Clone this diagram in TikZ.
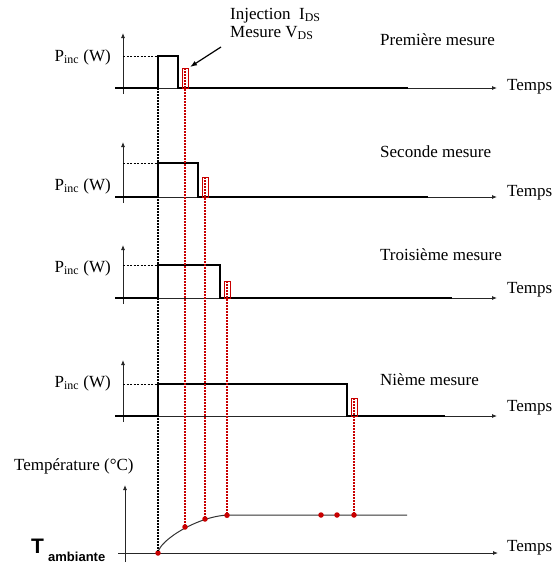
\documentclass[tikz,border=0pt]{standalone}
\usepackage{fontspec}
\setmainfont{Liberation Serif}
\newfontfamily\sansf{Liberation Sans}
\usetikzlibrary{arrows.meta}
\definecolor{rougef}{RGB}{200,0,0}

\begin{document}
\begin{tikzpicture}[x=1pt, y=-1pt,
	axe/.style={line width=0.8pt, black!85, -{Latex[length=5pt, width=4pt]}},
	impulsion/.style={line width=2.2pt, black},
	niveau/.style={line width=0.7pt, dash pattern=on 2pt off 1.5pt},
	repere/.style={line width=1.2pt, dash pattern=on 1.5pt off 1.5pt},
	txt/.style={font=\fontsize{17}{18}\selectfont, inner sep=0pt},
	point/.style={circle, fill=rougef, inner sep=0pt, minimum size=5.5pt}]

	\useasboundingbox (0,0) rectangle (557,565);

	% les quatre mesures
	\foreach \i/\yb/\yh/\ya/\xf/\xt/\yr/\ytp/\yti/\ypl/\titre in {
		1/88/56/33/178/408/68/87/40/57/Première mesure,
		2/197/163/142/198/428/177/193/152/186/Seconde mesure,
		3/298/265/245/220/452/281/290/255/268/Troisième mesure,
		4/416/384/360/347/445/398/408/380/383/Nième mesure}{
		\draw[axe] (115,\yb) -- (497,\yb);
		\draw[axe] (123,\yb+6) -- (123,\ya);
		\draw[niveau] (123,\yh) -- (158,\yh);
		\draw[impulsion] (115,\yb) -- (158,\yb) -- (158,\yh) -- (\xf,\yh) -- (\xf,\yb) -- (\xt,\yb);
		\draw[rougef, line width=0.7pt] (\xf+4,\yb) rectangle (\xf+10,\yr);
		\coordinate (m\i) at (\xf+7,\yr);
		\node[txt, anchor=west] (temps\i) at (507,\ytp) {Temps};
		\node[txt, anchor=west] (titre\i) at (380,\yti) {\titre};
		\node[txt, anchor=east] (pinc\i) at (111,\ypl) {P\textsubscript{inc} (W)};
	}

	\node[txt, anchor=west, align=left] (inj) at (230,24) {Injection\ \ I\textsubscript{DS}\\Mesure V\textsubscript{DS}};
	\coordinate (fd) at (221,47);
	\coordinate (fa) at (190,67);
	\draw[line width=1.2pt, -{Latex[length=7pt, width=5pt]}] (fd) -- (fa);

	% temperature
	\node[txt, anchor=west] (temp) at (14,466) {Température (°C)};
	\node[anchor=base west, inner sep=0pt, font=\sansf\bfseries\fontsize{21}{21}\selectfont] (tamb) at (31,553) {T};
	\node[anchor=base west, inner sep=0pt, font=\sansf\bfseries\fontsize{13}{13}\selectfont] (amb) at (48,561) {ambiante};
	\node[txt, anchor=west] (temps5) at (507,548) {Temps};
	\draw[axe] (118,553) -- (498,553);
	\draw[axe] (125,562) -- (125,485);
	\draw[black!80, line width=1pt] (158,553) .. controls (159,540) and (200,515) .. (230,515) -- (407,515);

	\node[point] (p0) at (158,553) {};
	\node[point] (p1) at (185,527) {};
	\node[point] (p2) at (205,519) {};
	\node[point] (p3) at (227,515.3) {};
	\node[point] (p4) at (321,515) {};
	\node[point] (p5) at (337,515) {};
	\node[point] (p6) at (354,515) {};

	\coordinate (d0) at (158,88);
	\draw[repere] (d0) -- (p0);
	\draw[repere, rougef] (m1) -- (p1);
	\draw[repere, rougef] (m2) -- (p2);
	\draw[repere, rougef] (m3) -- (p3);
	\draw[repere, rougef] (m4) -- (p6);
\end{tikzpicture}
\end{document}
